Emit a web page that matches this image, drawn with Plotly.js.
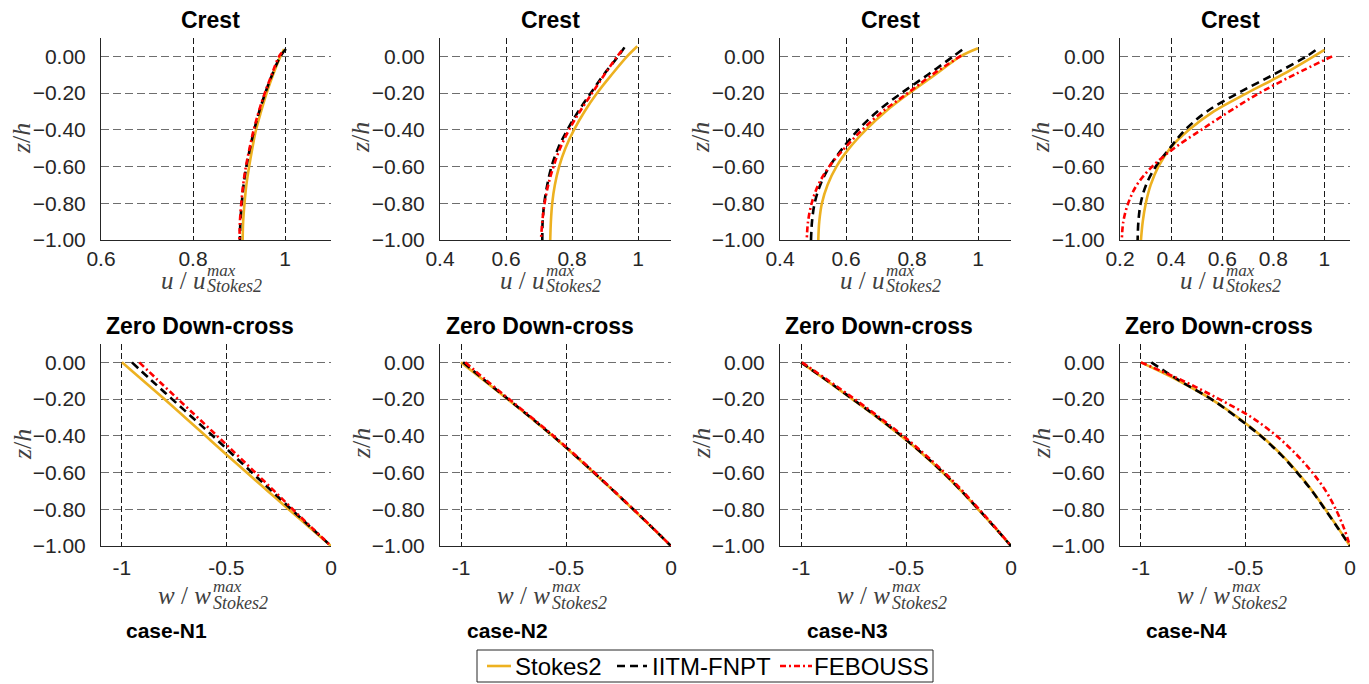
<!DOCTYPE html>
<html>
<head>
<meta charset="utf-8">
<script src="https://cdn.plot.ly/plotly-3.0.1.min.js"></script>
<style>html,body{margin:0;padding:0;background:#fff;}#chart{width:1369px;height:684px;}</style>
</head>
<body>
<div id="chart"></div>
<script>
// ---------------- DATA ----------------
const caseNames = ["case-N1", "case-N2", "case-N3", "case-N4"];
const seriesNames = ["Stokes2", "IITM-FNPT", "FEBOUSS"];
const rowTitles = ["Crest", "Zero Down-cross"];

const zGrid = [0, -0.1, -0.2, -0.3, -0.4, -0.5, -0.6, -0.7, -0.8, -0.9, -1.0];

// Crest: horizontal velocity u/u_max vs z/h
const crestN1_stokes_z = [0.04, 0, -0.1, -0.2, -0.3, -0.4, -0.5, -0.6, -0.7, -0.8, -0.9, -1.0];
const crestN1_stokes_u = [0.998, 0.990, 0.974, 0.960, 0.948, 0.937, 0.929, 0.922, 0.916, 0.912, 0.909, 0.908];
const crestN1_fnpt_z   = [0.04, 0, -0.1, -0.2, -0.3, -0.4, -0.5, -0.6, -0.7, -0.8, -0.9, -1.0];
const crestN1_fnpt_u   = [1.002, 0.990, 0.972, 0.957, 0.944, 0.933, 0.924, 0.916, 0.910, 0.906, 0.903, 0.902];
const crestN1_feb_z    = [0.02, 0, -0.1, -0.2, -0.3, -0.4, -0.5, -0.6, -0.7, -0.8, -0.9, -1.0];
const crestN1_feb_u    = [0.993, 0.987, 0.971, 0.956, 0.943, 0.932, 0.923, 0.915, 0.909, 0.905, 0.902, 0.901];

const crestN2_stokes_z = [0.055, 0, -0.1, -0.2, -0.3, -0.4, -0.5, -0.6, -0.7, -0.8, -0.9, -1.0];
const crestN2_stokes_u = [0.998, 0.967, 0.920, 0.876, 0.838, 0.806, 0.780, 0.761, 0.748, 0.740, 0.736, 0.734];
const crestN2_fnpt_z   = [0.049, 0, -0.1, -0.2, -0.3, -0.4, -0.5, -0.6, -0.7, -0.8, -0.9, -1.0];
const crestN2_fnpt_u   = [0.959, 0.940, 0.896, 0.857, 0.819, 0.786, 0.758, 0.738, 0.725, 0.716, 0.711, 0.710];
const crestN2_feb_z    = [0.031, 0, -0.1, -0.2, -0.3, -0.4, -0.5, -0.6, -0.7, -0.8, -0.9, -1.0];
const crestN2_feb_u    = [0.951, 0.937, 0.898, 0.861, 0.824, 0.791, 0.764, 0.744, 0.728, 0.717, 0.710, 0.706];

const crestN3_stokes_z = [0.044, 0, -0.1, -0.2, -0.3, -0.4, -0.5, -0.6, -0.7, -0.8, -0.9, -1.0];
const crestN3_stokes_u = [1.000, 0.947, 0.870, 0.792, 0.720, 0.660, 0.610, 0.571, 0.544, 0.527, 0.519, 0.516];
const crestN3_fnpt_z   = [0.036, 0, -0.1, -0.2, -0.3, -0.4, -0.5, -0.6, -0.7, -0.8, -0.9, -1.0];
const crestN3_fnpt_u   = [0.952, 0.925, 0.848, 0.768, 0.695, 0.637, 0.590, 0.550, 0.522, 0.505, 0.497, 0.494];
const crestN3_feb_z    = [0.004, -0.1, -0.2, -0.3, -0.4, -0.5, -0.6, -0.7, -0.8, -0.9, -1.0];
const crestN3_feb_u    = [0.949, 0.861, 0.787, 0.711, 0.649, 0.596, 0.549, 0.516, 0.496, 0.485, 0.481];

const crestN4_stokes_z = [0.035, 0, -0.1, -0.2, -0.3, -0.4, -0.5, -0.6, -0.7, -0.8, -0.9, -1.0];
const crestN4_stokes_u = [1.000, 0.958, 0.835, 0.697, 0.567, 0.470, 0.397, 0.350, 0.320, 0.301, 0.289, 0.282];
const crestN4_fnpt_z   = [0.033, 0, -0.1, -0.2, -0.3, -0.4, -0.5, -0.6, -0.7, -0.8, -0.9, -1.0];
const crestN4_fnpt_u   = [0.965, 0.930, 0.800, 0.662, 0.540, 0.455, 0.395, 0.340, 0.302, 0.281, 0.272, 0.269];
const crestN4_feb_z    = [0, -0.1, -0.2, -0.3, -0.4, -0.5, -0.6, -0.7, -0.8, -0.9, -1.0];
const crestN4_feb_u    = [1.030, 0.882, 0.745, 0.628, 0.518, 0.412, 0.326, 0.266, 0.232, 0.213, 0.207];

// Zero down-cross: vertical velocity w/w_max vs z/h (on zGrid)
const downN1_stokes_w = [-1.000, -0.898, -0.797, -0.698, -0.600, -0.502, -0.403, -0.303, -0.203, -0.101, 0];
const downN1_fnpt_w   = [-0.952, -0.857, -0.760, -0.663, -0.566, -0.472, -0.378, -0.284, -0.190, -0.095, 0];
const downN1_feb_w    = [-0.917, -0.825, -0.732, -0.638, -0.545, -0.453, -0.362, -0.272, -0.183, -0.092, 0];

const downN2_stokes_w = [-1.000, -0.889, -0.779, -0.670, -0.565, -0.465, -0.369, -0.274, -0.181, -0.090, 0];
const downN2_fnpt_w   = [-0.990, -0.884, -0.776, -0.668, -0.563, -0.463, -0.367, -0.273, -0.180, -0.089, 0];
const downN2_feb_w    = [-0.980, -0.877, -0.771, -0.664, -0.560, -0.460, -0.365, -0.271, -0.179, -0.088, 0];

const downN3_stokes_w = [-1.000, -0.877, -0.756, -0.637, -0.525, -0.420, -0.325, -0.238, -0.157, -0.077, 0];
const downN3_fnpt_w   = [-1.000, -0.875, -0.754, -0.634, -0.522, -0.418, -0.323, -0.236, -0.155, -0.076, 0];
const downN3_feb_w    = [-0.995, -0.868, -0.745, -0.626, -0.514, -0.411, -0.317, -0.231, -0.152, -0.074, 0];

const downN4_stokes_w = [-1.000, -0.819, -0.664, -0.536, -0.425, -0.330, -0.250, -0.180, -0.118, -0.058, 0];
const downN4_fnpt_w   = [-0.950, -0.815, -0.664, -0.540, -0.428, -0.333, -0.253, -0.182, -0.120, -0.059, 0];
const downN4_feb_w    = [-1.000, -0.800, -0.626, -0.470, -0.352, -0.258, -0.180, -0.116, -0.068, -0.030, 0];

// axis tick values
const crestXRanges = [[0.6, 1.1], [0.4, 1.1], [0.4, 1.1], [0.2, 1.1]];
const crestXTicks = [[0.6, 0.8, 1], [0.4, 0.6, 0.8, 1], [0.4, 0.6, 0.8, 1], [0.2, 0.4, 0.6, 0.8, 1]];
const downXRange = [-1.1, 0];
const downXTicks = [-1, -0.5, 0];
const zRange = [-1.0, 0.1];
const zTicks = [-1.0, -0.8, -0.6, -0.4, -0.2, 0];

// ---------------- BUILD ----------------
const crestData = [
  [[crestN1_stokes_u, crestN1_stokes_z], [crestN1_fnpt_u, crestN1_fnpt_z], [crestN1_feb_u, crestN1_feb_z]],
  [[crestN2_stokes_u, crestN2_stokes_z], [crestN2_fnpt_u, crestN2_fnpt_z], [crestN2_feb_u, crestN2_feb_z]],
  [[crestN3_stokes_u, crestN3_stokes_z], [crestN3_fnpt_u, crestN3_fnpt_z], [crestN3_feb_u, crestN3_feb_z]],
  [[crestN4_stokes_u, crestN4_stokes_z], [crestN4_fnpt_u, crestN4_fnpt_z], [crestN4_feb_u, crestN4_feb_z]]
];
const downData = [
  [downN1_stokes_w, downN1_fnpt_w, downN1_feb_w],
  [downN2_stokes_w, downN2_fnpt_w, downN2_feb_w],
  [downN3_stokes_w, downN3_fnpt_w, downN3_feb_w],
  [downN4_stokes_w, downN4_fnpt_w, downN4_feb_w]
];

const lineStyles = [
  {color: '#EDB120', width: 2.6, dash: 'solid'},
  {color: '#000000', width: 2.6, dash: '8px,5px'},
  {color: '#FF0000', width: 2.6, dash: '6px,3px,2px,3px'}
];
const W = 1369, H = 684;
const px = x => x / W;
const py = y => 1 - y / H;

const colL = [101, 440, 780, 1120];
const colR = [331, 671, 1011, 1350];
const rowTop = [38, 344];
const rowBot = [240, 546];

const traces = [];
const layout = {
  width: W, height: H,
  margin: {l: 0, r: 0, t: 0, b: 0},
  paper_bgcolor: '#ffffff',
  plot_bgcolor: '#ffffff',
  showlegend: false,
  font: {family: 'Liberation Sans, Arial, sans-serif', color: '#262626', size: 21},
  annotations: [],
  shapes: []
};

const crestTitleX = [210, 550, 890, 1230];
const downTitleX = [199.5, 539.5, 879, 1219];
const caseX = [166.5, 507, 847, 1186];

let ax = 0;
for (let r = 0; r < 2; r++) {
  for (let c = 0; c < 4; c++) {
    ax++;
    const xa = ax === 1 ? 'x' : 'x' + ax;
    const ya = ax === 1 ? 'y' : 'y' + ax;
    for (let s = 0; s < 3; s++) {
      let xs, ys;
      if (r === 0) { xs = crestData[c][s][0]; ys = crestData[c][s][1]; }
      else { xs = downData[c][s]; ys = zGrid; }
      traces.push({
        type: 'scatter', mode: 'lines', x: xs, y: ys,
        xaxis: xa, yaxis: ya,
        name: seriesNames[s], legendgroup: seriesNames[s],
        showlegend: false,
        line: Object.assign({shape: 'spline', smoothing: 1.0}, lineStyles[s]),
        hoverinfo: 'skip'
      });
    }
    const xKey = ax === 1 ? 'xaxis' : 'xaxis' + ax;
    const yKey = ax === 1 ? 'yaxis' : 'yaxis' + ax;
    const xr = r === 0 ? crestXRanges[c] : downXRange;
    const xt = r === 0 ? crestXTicks[c] : downXTicks;
    layout[xKey] = {
      domain: [px(colL[c]), px(colR[c])], anchor: ya,
      range: xr, tickvals: xt, ticktext: xt.map(v => String(v)),
      showline: true, linecolor: '#262626', linewidth: 1,
      showgrid: true, gridcolor: '#1a1a1a', gridwidth: 1, griddash: '6px,3px',
      zeroline: false, ticks: '', ticklabelstandoff: r === 0 ? 0 : 3,
      tickfont: {size: 21, color: '#262626'}, fixedrange: true
    };
    layout[yKey] = {
      domain: [py(rowBot[r]), py(rowTop[r])], anchor: xa,
      range: zRange, tickvals: zTicks, tickformat: '.2f',
      showline: true, linecolor: '#262626', linewidth: 1,
      showgrid: true, gridcolor: '#6e6e6e', gridwidth: 1, griddash: '8px,4px',
      zeroline: false, ticks: '', ticklabelstandoff: 10,
      tickfont: {size: 21, color: '#262626'}, fixedrange: true
    };
    // subplot title
    layout.annotations.push({
      xref: 'paper', yref: 'paper', x: px(r === 0 ? crestTitleX[c] : downTitleX[c]), y: py(r === 0 ? 20 : 326),
      xanchor: 'center', yanchor: 'middle', showarrow: false,
      text: '<b>' + rowTitles[r] + '</b>',
      font: {size: 23, color: '#000000', family: 'Liberation Sans, Arial, sans-serif'}
    });
    // y axis title
    layout.annotations.push({
      xref: 'paper', yref: 'paper', x: px(colL[c] - 79), y: py(r === 0 ? 138 : 444),
      xanchor: 'center', yanchor: 'middle', showarrow: false, textangle: -90,
      text: '<i>z</i>/<i>h</i>',
      font: {size: 26, color: '#404040', family: 'Liberation Serif, Times New Roman, serif'}
    });
    // x axis title (stacked super/sub scripts)
    const sym = r === 0 ? 'u' : 'w';
    const mainRight = colL[c] + (r === 0 ? 106 : 112);
    const mainY = r === 0 ? 296 : 611;
    const supY = r === 0 ? 282 : 598;
    const subY = r === 0 ? 298 : 615;
    layout.annotations.push({
      xref: 'paper', yref: 'paper', x: px(mainRight), y: py(mainY),
      xanchor: 'right', yanchor: 'bottom', showarrow: false,
      text: '<i>' + sym + '</i> / <i>' + sym + '</i>',
      font: {size: 25, color: '#404040', family: 'Liberation Serif, Times New Roman, serif'}
    });
    layout.annotations.push({
      xref: 'paper', yref: 'paper', x: px(mainRight - 2), y: py(supY),
      xanchor: 'left', yanchor: 'bottom', showarrow: false,
      text: '<i>max</i>',
      font: {size: 17, color: '#404040', family: 'Liberation Serif, Times New Roman, serif'}
    });
    layout.annotations.push({
      xref: 'paper', yref: 'paper', x: px(mainRight - 2), y: py(subY),
      xanchor: 'left', yanchor: 'bottom', showarrow: false,
      text: '<i>Stokes2</i>',
      font: {size: 18, color: '#404040', family: 'Liberation Serif, Times New Roman, serif'}
    });
    if (r === 1) {
      layout.annotations.push({
        xref: 'paper', yref: 'paper', x: px(caseX[c]), y: py(630),
        xanchor: 'center', yanchor: 'middle', showarrow: false,
        text: '<b>' + caseNames[c] + '</b>',
        font: {size: 21, color: '#000000', family: 'Liberation Sans, Arial, sans-serif'}
      });
    }
  }
}

// legend (box, sample lines and labels)
const legendBox = {x0: 477, x1: 933, y0: 650, y1: 682};
const legendLineX = [[487, 511], [617, 647], [780, 812]];
const legendTextX = [513, 650, 812];
layout.shapes.push({
  type: 'rect', xref: 'paper', yref: 'paper',
  x0: px(legendBox.x0), x1: px(legendBox.x1), y0: py(legendBox.y1), y1: py(legendBox.y0),
  line: {color: '#262626', width: 1}, fillcolor: '#ffffff', layer: 'above'
});
for (let s = 0; s < 3; s++) {
  layout.shapes.push({
    type: 'line', xref: 'paper', yref: 'paper',
    x0: px(legendLineX[s][0]), x1: px(legendLineX[s][1]), y0: py(666), y1: py(666),
    line: {color: lineStyles[s].color, width: lineStyles[s].width, dash: lineStyles[s].dash}, layer: 'above'
  });
  layout.annotations.push({
    xref: 'paper', yref: 'paper', x: px(legendTextX[s]), y: py(666),
    xanchor: 'left', yanchor: 'middle', showarrow: false,
    text: seriesNames[s],
    font: {size: 24, color: '#000000', family: 'Liberation Sans, Arial, sans-serif'}
  });
}

Plotly.newPlot('chart', traces, layout, {staticPlot: true, displayModeBar: false});
</script>
</body>
</html>
